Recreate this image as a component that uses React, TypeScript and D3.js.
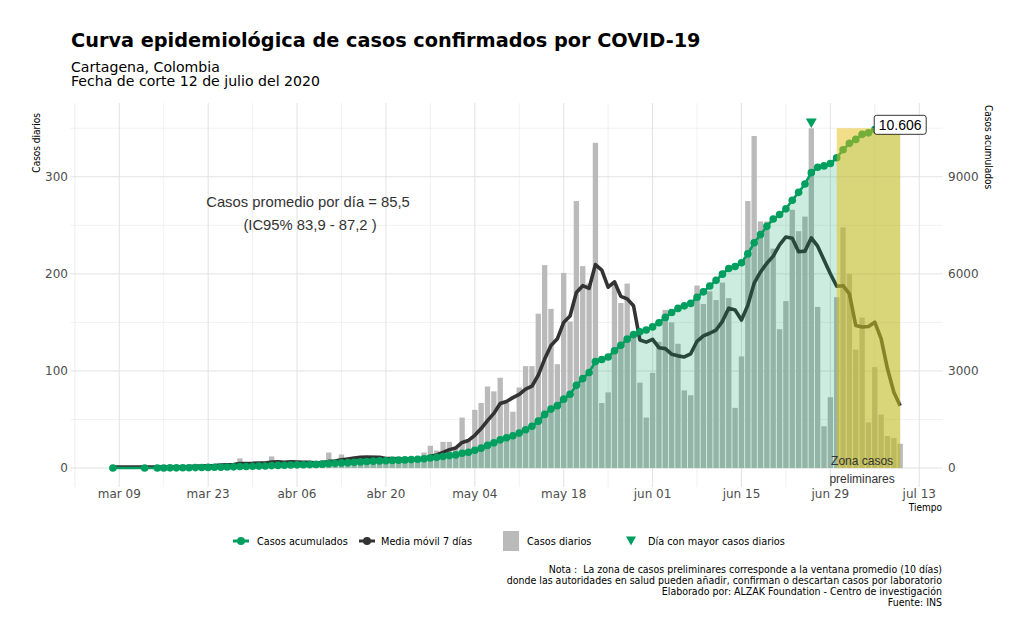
import React from "react";
import * as d3 from "d3";

// ---------------- DATA ----------------
const fechasIniciales = ["2020-03-08", "2020-03-13"];
const casosIniciales = [1, 1];
const inicioSerieContinua = "2020-03-15"; // daily values from here to 2020-07-10
const casosDiarios = [
  1, 1, 2, 1, 2, 3, 2, 3, 4, 3, 4, 5, 4,
  10, 3, 5, 6, 4, 12, 5, 7, 6, 4,
  3, 5, 6, 8, 16, 8, 14, 9, 11, 12,
  10, 13, 8, 6, 9, 8, 7, 10, 12,
  16, 23, 18, 27, 27, 22, 52, 30, 60,
  67, 84, 79, 93, 67, 58, 83, 105, 105,
  159, 209, 164, 107, 201, 151, 275, 208, 190, 335,
  67, 78, 190, 170, 190, 140, 88, 52, 98, 130,
  163, 150, 128, 80, 75, 188, 169, 182, 173, 191,
  175, 62, 115, 275, 342, 254, 254, 226, 143, 172,
  266, 244, 259, 350, 166, 43, 73, 176, 248, 200,
  122, 155, 47, 104, 55, 33, 31, 25,
];
const ticksMayores = ["2020-03-09", "2020-03-23", "2020-04-06", "2020-04-20", "2020-05-04", "2020-05-18", "2020-06-01", "2020-06-15", "2020-06-29", "2020-07-13"];
const etiquetasX = ["mar 09", "mar 23", "abr 06", "abr 20", "may 04", "may 18", "jun 01", "jun 15", "jun 29", "jul 13"];
const ticksMenores = ["2020-03-02", "2020-03-16", "2020-03-30", "2020-04-13", "2020-04-27", "2020-05-11", "2020-05-25", "2020-06-08", "2020-06-22", "2020-07-06"];
const ticksIzq = [0, 100, 200, 300];
const ticksIzqMenores = [50, 150, 250, 350];
const ticksDer = [0, 3000, 6000, 9000];
const factorSecundario = 30;
const inicioPreliminar = "2020-06-30";
const finPreliminar = "2020-07-10";
const centroTextoZona = "2020-07-04";

const titulo = "Curva epidemiológica de casos confirmados por COVID-19";
const subtitulo1 = "Cartagena, Colombia";
const subtitulo2 = "Fecha de corte 12 de julio del 2020";
const anotacion1 = "Casos promedio por día = 85,5";
const anotacion2 = "(IC95% 83,9 - 87,2 )";
const notas = [
  "Nota :  La zona de casos preliminares corresponde a la ventana promedio (10 días)",
  "donde las autoridades en salud pueden añadir, confirman o descartan casos por laboratorio",
  "Elaborado por: ALZAK Foundation - Centro de investigación",
  "Fuente: INS",
];

// ---------------- BUILD ROWS ----------------
const parse = d3.utcParse("%Y-%m-%d");
type Row = { date: Date; casos: number; acum: number; media: number };
const rows: Row[] = [];
fechasIniciales.forEach((f, i) => rows.push({ date: parse(f)!, casos: casosIniciales[i], acum: 0, media: 0 }));
const start = parse(inicioSerieContinua)!;
casosDiarios.forEach((c, i) => rows.push({ date: d3.utcDay.offset(start, i), casos: c, acum: 0, media: 0 }));
let run = 0;
rows.forEach((r, i) => {
  run += r.casos;
  r.acum = run;
  const win = rows.slice(Math.max(0, i - 6), i + 1);
  r.media = d3.mean(win, (w) => w.casos) as number;
});

const GREEN = "#009E5F";
const YELLOW = "#E6BE14";
const DAY = 86400000;

export default function App() {
  const first = rows[0].date.getTime();
  const last = rows[rows.length - 1].date.getTime();
  const span = (last - first) / DAY + 0.9;
  const pad = 0.45 + span * 0.05;
  const x = d3
    .scaleUtc()
    .domain([new Date(first - pad * DAY), new Date(last + pad * DAY)])
    .range([70.4, 942.7]);
  const y = d3.scaleLinear().domain([-19.5, 376]).range([487, 103]);
  const yR = d3.scaleLinear().domain([-19.5 * factorSecundario, 376 * factorSecundario]).range([487, 103]);
  const panelL = 70.4, panelR = 942.7, panelT = 103, panelB = 487;
  const dayW = x(new Date(first + DAY)) - x(new Date(first));
  const barW = dayW * 0.84;

  const maxRow = rows.reduce((a, b) => (b.casos > a.casos ? b : a));
  const lastRow = rows[rows.length - 1];

  const lineMedia = d3.line<Row>().x((d) => x(d.date)).y((d) => y(d.media));
  const lineAcum = d3.line<Row>().x((d) => x(d.date)).y((d) => yR(d.acum));
  const areaAcum = d3.area<Row>().x((d) => x(d.date)).y0(y(0)).y1((d) => yR(d.acum));

  const fmt = (v: number) => d3.format(",")(v).replace(/,/g, ".");

  const xp0 = x(parse(inicioPreliminar)!);
  const xp1 = x(parse(finPreliminar)!);
  const triX = x(maxRow.date), triY = y(maxRow.casos + 5.5);

  const sans = "'DejaVu Sans', sans-serif";
  const cond = "'DejaVu Sans Condensed', 'DejaVu Sans', sans-serif";
  const arial = "'Liberation Sans', Arial, sans-serif";

  const lx = x(lastRow.date), ly = yR(lastRow.acum);
  const labelText = fmt(lastRow.acum);

  return (
    <svg width={1024} height={639} style={{ position: "fixed", left: 0, top: 0, background: "#fff" }} xmlns="http://www.w3.org/2000/svg">
      <rect width={1024} height={639} fill="#fff" />
      {/* titles */}
      <text x={71} y={46.7} fontFamily={sans} fontWeight="bold" fontSize={19.3} fill="#000">{titulo}</text>
      <text x={71} y={71.7} fontFamily={sans} fontSize={14.1} fill="#000">{subtitulo1}</text>
      <text x={71} y={86.4} fontFamily={sans} fontSize={14.1} fill="#000">{subtitulo2}</text>

      {/* grid */}
      <g>
        {ticksIzqMenores.map((v) => (
          <line key={"hm" + v} x1={panelL} x2={panelR} y1={y(v)} y2={y(v)} stroke="#eeeeee" strokeWidth={0.8} />
        ))}
        {ticksMenores.map((t) => (
          <line key={"vm" + t} x1={x(parse(t)!)} x2={x(parse(t)!)} y1={panelT} y2={panelB} stroke="#eeeeee" strokeWidth={0.8} />
        ))}
        {ticksIzq.map((v) => (
          <line key={"h" + v} x1={panelL} x2={panelR} y1={y(v)} y2={y(v)} stroke="#e2e2e2" strokeWidth={1} />
        ))}
        {ticksMayores.map((t) => (
          <line key={"v" + t} x1={x(parse(t)!)} x2={x(parse(t)!)} y1={panelT} y2={panelB} stroke="#e2e2e2" strokeWidth={1} />
        ))}
      </g>

      {/* bars */}
      <g fill="#bababa">
        {rows.map((r, i) => (
          <rect key={i} x={x(r.date) - barW / 2} width={barW} y={y(r.casos)} height={y(0) - y(r.casos)} />
        ))}
      </g>

      {/* moving average */}
      <path d={lineMedia(rows)!} fill="none" stroke="#333333" strokeWidth={3.6} strokeLinejoin="round" />

      {/* cumulative area */}
      <path d={areaAcum(rows)!} fill={GREEN} fillOpacity={0.2} />

      {/* cumulative line & points */}
      <path d={lineAcum(rows)!} fill="none" stroke={GREEN} strokeWidth={2.6} />
      <g fill={GREEN}>
        {rows.map((r, i) => (
          <circle key={i} cx={x(r.date)} cy={yR(r.acum)} r={3.8} />
        ))}
      </g>

      {/* max day triangle */}
      <path d={`M${triX - 5.5},${triY - 4.5} L${triX + 5.5},${triY - 4.5} L${triX},${triY + 5} Z`} fill={GREEN} />

      {/* preliminary zone */}
      <rect x={xp0} width={xp1 - xp0} y={y(maxRow.casos)} height={y(0) - y(maxRow.casos)} fill={YELLOW} fillOpacity={0.5} />

      {/* axis labels */}
      <g fontFamily={sans} fontSize={12} fill="#4d4d4d">
        {ticksIzq.map((v) => (
          <text key={"l" + v} x={68} y={y(v) + 4.3} textAnchor="end">{v}</text>
        ))}
        {ticksDer.map((v) => (
          <text key={"r" + v} x={948} y={yR(v) + 4.3} textAnchor="start">{v}</text>
        ))}
        {ticksMayores.map((t, i) => (
          <text key={"x" + t} x={x(parse(t)!)} y={498} textAnchor="middle">{etiquetasX[i]}</text>
        ))}
      </g>
      <text transform={`translate(39.5,113) rotate(-90)`} textAnchor="end" fontFamily={cond} fontSize={10} fill="#000">Casos diarios</text>
      <text transform={`translate(984.5,105) rotate(90)`} textAnchor="start" fontFamily={cond} fontSize={10} fill="#000">Casos acumulados</text>
      <text x={942} y={510.5} textAnchor="end" fontFamily={cond} fontSize={10} fill="#000">Tiempo</text>

      {/* annotations */}
      <g fontFamily={arial} fontSize={14.8} fill="#333">
        <text x={308} y={207} textAnchor="middle">{anotacion1}</text>
        <text x={310} y={229.5} textAnchor="middle">{anotacion2}</text>
      </g>
      <g fontFamily={arial} fontSize={12} fill="#333" textAnchor="middle">
        <text x={x(parse(centroTextoZona)!)} y={464.5}>Zona casos</text>
        <text x={x(parse(centroTextoZona)!)} y={482.5}>preliminares</text>
      </g>

      {/* final label */}
      <g>
        <rect x={lx - 26} y={ly - 9.5} width={52} height={19} rx={2.5} fill="#fff" stroke="#000" strokeWidth={0.8} />
        <text x={lx} y={ly + 5} textAnchor="middle" fontFamily={arial} fontSize={14} fill="#000">{labelText}</text>
      </g>

      {/* legend */}
      <g fontFamily={cond} fontSize={10.8} fill="#000">
        <line x1={233} x2={249} y1={541} y2={541} stroke={GREEN} strokeWidth={3} />
        <circle cx={241} cy={541} r={4} fill={GREEN} />
        <text x={257} y={544.8}>Casos acumulados</text>
        <line x1={359} x2={375} y1={541} y2={541} stroke="#333" strokeWidth={3} />
        <circle cx={367} cy={541} r={4} fill="#333" />
        <text x={381} y={544.8}>Media móvil 7 días</text>
        <rect x={503} y={531} width={16} height={20} fill="#bababa" />
        <text x={527} y={544.8}>Casos diarios</text>
        <path d="M626,536.5 L636,536.5 L631,545.5 Z" fill={GREEN} />
        <text x={648} y={544.8}>Día con mayor casos diarios</text>
      </g>

      {/* footnote */}
      <g fontFamily={cond} fontSize={10.5} fill="#000" textAnchor="end">
        {notas.map((n, i) => (
          <text key={i} x={942} y={573 + i * 11} style={{ whiteSpace: "pre" }}>{n}</text>
        ))}
      </g>
    </svg>
  );
}
